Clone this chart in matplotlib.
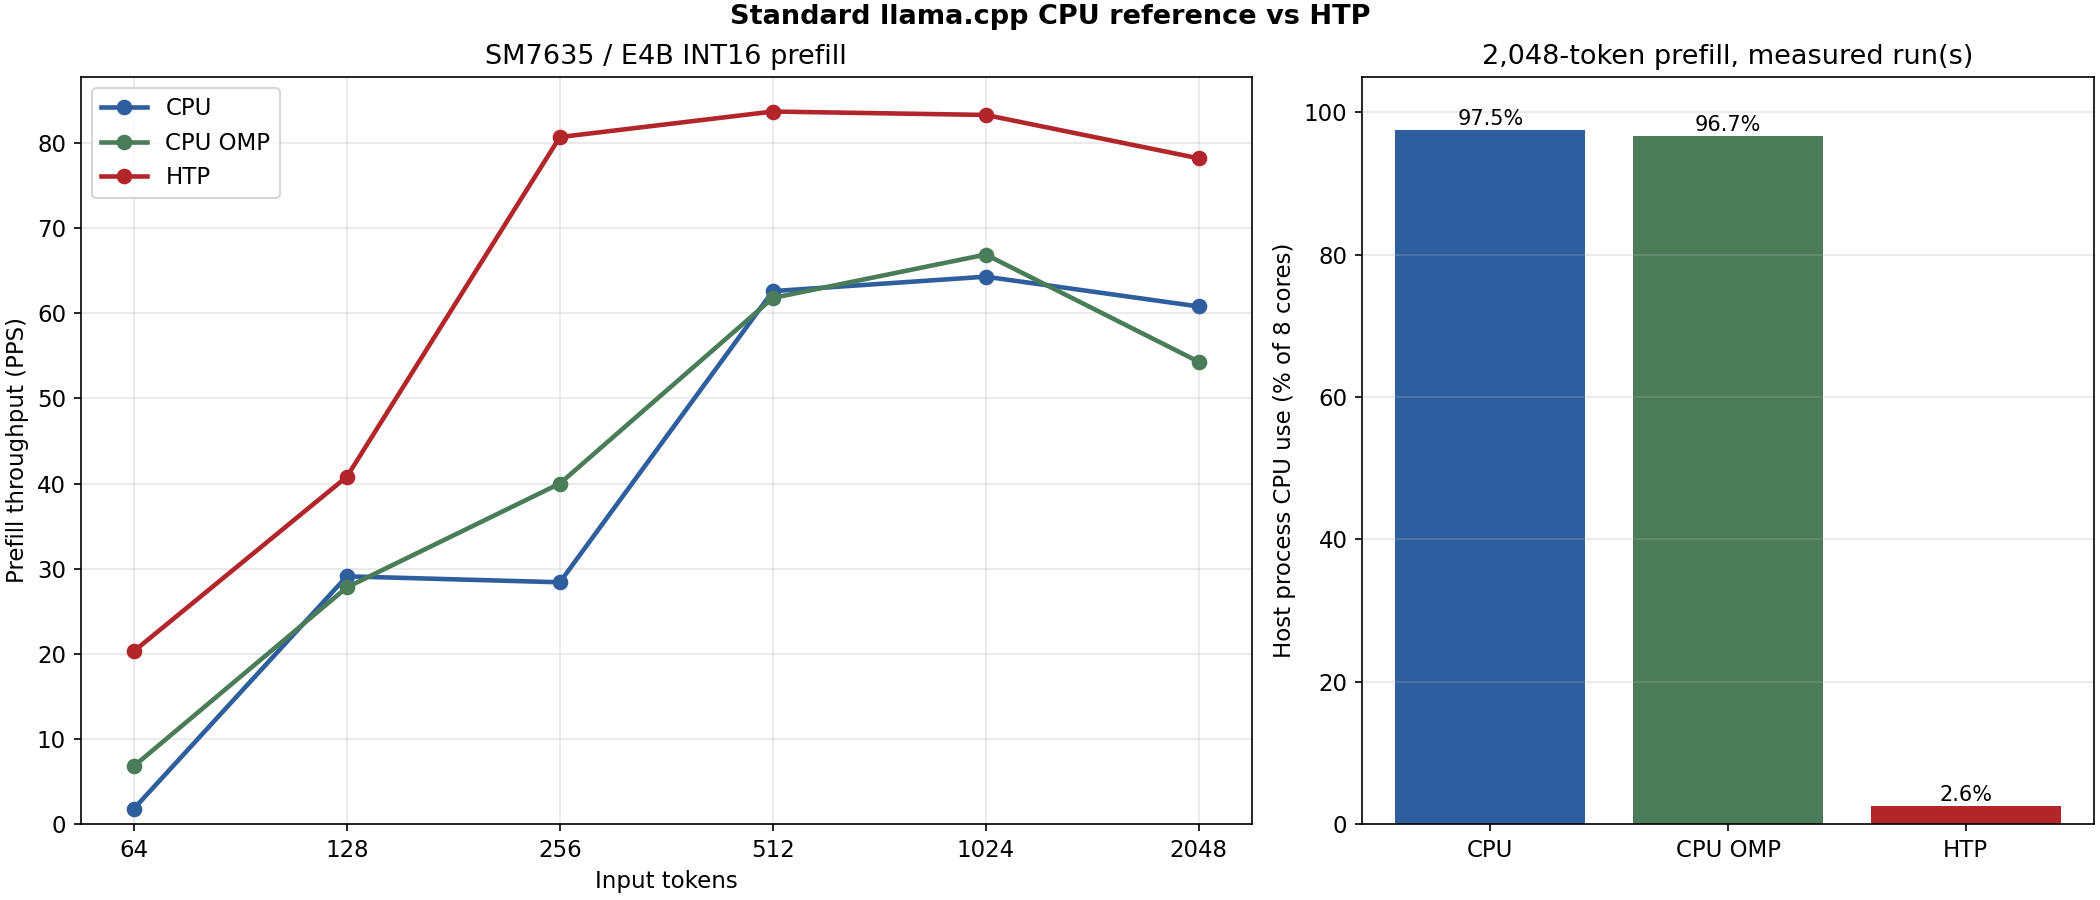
import matplotlib
matplotlib.use("Agg")
import matplotlib.pyplot as plt
import numpy as np

tokens = ["64", "128", "256", "512", "1024", "2048"]
cpu_pps = [1.8, 29.1, 28.4, 62.6, 64.3, 60.8]
omp_pps = [6.8, 27.8, 40.0, 61.8, 66.9, 54.3]
htp_pps = [20.3, 40.8, 80.7, 83.7, 83.3, 78.2]

backends = ["CPU", "CPU OMP", "HTP"]
cpu_use = [97.5, 96.7, 2.6]

colors = ["#2e5e9e", "#4a7c59", "#b2262b"]

fig = plt.figure(figsize=(14, 6), dpi=150)
ax1 = fig.add_axes([0.0384, 0.0844, 0.5578, 0.8304])
ax2 = fig.add_axes([0.6486, 0.0844, 0.3486, 0.8304])

x = np.arange(len(tokens))
for vals, name, c in zip([cpu_pps, omp_pps, htp_pps], backends, colors):
    ax1.plot(x, vals, marker="o", color=c, lw=2.2, ms=6.5, label=name)
ax1.set_xticks(x)
ax1.set_xticklabels(tokens)
ax1.set_ylim(bottom=0)
ax1.set_xlabel("Input tokens")
ax1.set_ylabel("Prefill throughput (PPS)")
ax1.set_title("SM7635 / E4B INT16 prefill", fontsize=13)
ax1.grid(alpha=0.3)
ax1.legend(loc="upper left", fontsize=11)

bx = np.arange(len(backends))
bars = ax2.bar(bx, cpu_use, color=colors, width=0.8)
for b, v in zip(bars, cpu_use):
    ax2.text(b.get_x() + b.get_width() / 2, v + 0.1, f"{v:.1f}%",
             ha="center", va="bottom", fontsize=10)
ax2.set_xticks(bx)
ax2.set_xticklabels(backends)
ax2.set_ylim(0, 105)
ax2.set_ylabel("Host process CPU use (% of 8 cores)")
ax2.set_title("2,048-token prefill, measured run(s)", fontsize=13)
ax2.grid(axis="y", alpha=0.3)

for ax in (ax1, ax2):
    ax.tick_params(labelsize=11)
    ax.xaxis.label.set_size(11)
    ax.yaxis.label.set_size(11)

fig.suptitle("Standard llama.cpp CPU reference vs HTP", fontsize=13, fontweight="bold", y=0.995)
fig.savefig("out.png")
